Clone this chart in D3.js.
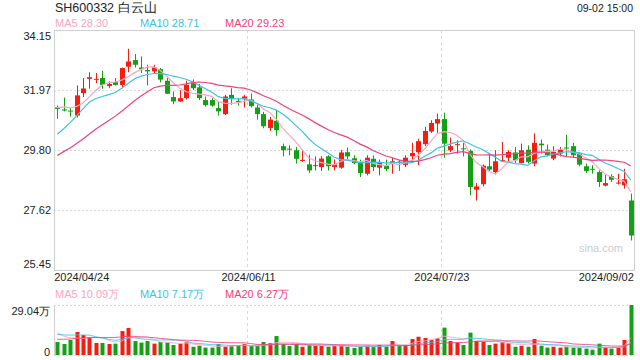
<!DOCTYPE html>
<html>
<head>
<meta charset="utf-8">
<script src="https://cdn.jsdelivr.net/npm/d3@7"></script>
<style>
    body { margin: 0; background: #fff; }
    svg { display: block; font-family: Arial, "Liberation Sans", sans-serif; }
</style>
</head>
<body>
<div id="chart"></div>
<script>
const title = 'SH600332 白云山';
const stamp = '09-02 15:00';

const dates = [
    '2024/04/24', '2024/04/25', '2024/04/26', '2024/04/29', '2024/04/30',
    '2024/05/06', '2024/05/07', '2024/05/08', '2024/05/09', '2024/05/10',
    '2024/05/13', '2024/05/14', '2024/05/15', '2024/05/16', '2024/05/17',
    '2024/05/20', '2024/05/21', '2024/05/22', '2024/05/23', '2024/05/24',
    '2024/05/27', '2024/05/28', '2024/05/29', '2024/05/30', '2024/05/31',
    '2024/06/03', '2024/06/04', '2024/06/05', '2024/06/06', '2024/06/07',
    '2024/06/11', '2024/06/12', '2024/06/13', '2024/06/14',
    '2024/06/17', '2024/06/18', '2024/06/19', '2024/06/20', '2024/06/21',
    '2024/06/24', '2024/06/25', '2024/06/26', '2024/06/27', '2024/06/28',
    '2024/07/01', '2024/07/02', '2024/07/03', '2024/07/04', '2024/07/05',
    '2024/07/08', '2024/07/09', '2024/07/10', '2024/07/11', '2024/07/12',
    '2024/07/15', '2024/07/16', '2024/07/17', '2024/07/18', '2024/07/19',
    '2024/07/22', '2024/07/23', '2024/07/24', '2024/07/25', '2024/07/26',
    '2024/07/29', '2024/07/30', '2024/07/31',
    '2024/08/01', '2024/08/02', '2024/08/05', '2024/08/06', '2024/08/07',
    '2024/08/08', '2024/08/09', '2024/08/12', '2024/08/13', '2024/08/14',
    '2024/08/15', '2024/08/16', '2024/08/19', '2024/08/20', '2024/08/21',
    '2024/08/22', '2024/08/23', '2024/08/26', '2024/08/27', '2024/08/28',
    '2024/08/29', '2024/08/30', '2024/09/02',
];

const open = [
    31.34, 31.27, 31.23, 31.05, 31.86, 32.38, 32.36, 32.41, 32.12, 32.26,
    32.16, 32.82, 33.06, 32.79, 32.70, 32.65, 32.73, 32.31, 31.72, 31.56,
    31.68, 32.22, 32.07, 31.61, 31.61, 31.32, 31.10, 31.80, 31.58, 31.66,
    31.63, 31.34, 31.10, 30.60, 30.86, 29.94, 29.85, 29.79, 29.41, 29.28,
    29.22, 29.18, 29.57, 29.18, 29.16, 29.72, 29.50, 29.37, 28.94, 29.48,
    29.16, 29.24, 29.31, 29.38, 29.26, 29.57, 29.72, 30.01, 30.47, 30.76,
    30.92, 29.79, 29.98, 29.86, 29.77, 28.36, 28.56, 29.21, 29.00, 29.40,
    29.52, 29.71, 29.33, 29.81, 29.31, 30.03, 29.81, 29.49, 29.67, 29.89,
    29.94, 29.67, 29.21, 29.12, 29.00, 28.51, 28.85, 28.59, 28.52, 27.97,
];
const high = [
    31.41, 31.70, 31.32, 32.14, 32.41, 32.62, 32.59, 32.67, 32.29, 32.41,
    32.79, 33.47, 33.28, 33.19, 32.89, 32.89, 32.77, 32.41, 31.92, 31.97,
    32.31, 32.36, 32.19, 31.74, 31.68, 31.56, 31.80, 32.04, 31.68, 31.80,
    31.85, 31.49, 31.18, 31.00, 31.24, 30.03, 29.97, 29.91, 29.79, 29.63,
    29.57, 29.58, 29.61, 29.46, 29.81, 29.89, 29.61, 29.45, 29.61, 29.60,
    29.45, 29.45, 29.52, 29.43, 29.61, 30.06, 30.21, 30.64, 30.88, 31.12,
    31.15, 30.25, 30.15, 30.06, 29.82, 28.60, 29.28, 29.67, 29.79, 30.09,
    29.79, 29.91, 30.03, 29.97, 30.40, 30.18, 30.00, 29.94, 29.91, 30.35,
    30.06, 29.73, 29.31, 29.25, 29.06, 28.92, 28.92, 28.94, 29.12, 28.22,
];
const low = [
    30.93, 31.20, 31.01, 30.98, 31.72, 32.02, 32.22, 32.02, 32.04, 32.14,
    32.07, 32.62, 32.79, 32.59, 32.14, 32.59, 32.25, 31.83, 31.46, 31.55,
    31.63, 31.97, 31.61, 31.37, 31.37, 31.05, 31.07, 31.44, 31.41, 31.34,
    31.34, 30.90, 30.59, 30.49, 30.32, 29.57, 29.61, 29.31, 29.37, 28.97,
    29.06, 29.04, 29.06, 29.06, 29.12, 29.45, 29.28, 28.82, 28.88, 29.04,
    28.88, 29.03, 28.94, 29.04, 29.18, 29.45, 29.25, 29.94, 30.42, 30.42,
    29.52, 29.73, 29.67, 29.57, 28.16, 27.97, 28.48, 29.04, 28.92, 29.37,
    29.37, 29.33, 29.31, 29.31, 29.21, 29.67, 29.57, 29.43, 29.57, 29.55,
    29.52, 29.21, 28.97, 28.94, 28.46, 28.48, 28.64, 28.55, 28.40, 26.52,
];
const close = [
    31.29, 31.23, 31.20, 31.78, 32.03, 32.44, 32.38, 32.16, 32.19, 32.16,
    32.77, 33.01, 32.89, 32.73, 32.65, 32.79, 32.35, 31.84, 31.56, 31.68,
    32.16, 32.04, 31.68, 31.43, 31.41, 31.20, 31.74, 31.66, 31.53, 31.74,
    31.39, 31.10, 30.66, 30.90, 30.52, 29.79, 29.83, 29.48, 29.44, 29.06,
    29.25, 29.49, 29.21, 29.28, 29.71, 29.57, 29.33, 28.97, 29.52, 29.18,
    29.35, 29.11, 29.39, 29.33, 29.52, 29.69, 30.12, 30.49, 30.78, 30.92,
    30.03, 29.94, 30.01, 29.84, 28.46, 28.48, 29.23, 29.09, 29.39, 29.43,
    29.73, 29.43, 29.79, 29.37, 30.06, 29.97, 29.61, 29.73, 29.81, 29.86,
    29.61, 29.27, 29.04, 29.10, 28.64, 28.60, 28.72, 28.62, 28.74, 26.70,
];
// volume in 万 (10k) shares
const volume = [
    7.55, 6.39, 8.71, 13.36, 11.6, 10.3, 6.97, 6.97, 6.39, 6.58,
    13.9, 15.7, 8.1, 7.2, 8.1, 6.6, 7.55, 7.2, 5.8, 6.6,
    7.4, 4.8, 5.4, 4.3, 4.3, 6.4, 4.8, 5.4, 5.8, 6.4,
    5.2, 5.2, 7.55, 7.0, 11.0, 6.4, 5.2, 6.4, 4.8, 5.8,
    5.4, 5.2, 4.8, 5.4, 5.6, 4.8, 4.1, 4.8, 5.4, 4.8,
    5.8, 4.8, 8.1, 5.4, 5.8, 9.3, 10.6, 9.9, 8.7, 9.7,
    15.9, 8.1, 7.2, 5.8, 13.0, 8.1, 7.7, 5.8, 6.6, 7.55,
    6.8, 4.8, 5.4, 4.8, 9.3, 5.4, 4.3, 4.8, 4.3, 4.8,
    4.3, 4.3, 3.7, 3.1, 6.6, 4.3, 3.7, 4.1, 8.7, 29.04,
];

// sessions before the visible window (estimated), needed for the moving averages
const priorClose = [
    28.4, 28.6, 28.5, 28.7, 28.9, 28.8, 29.0, 29.1, 29.0, 29.3,
    29.2, 29.0, 29.3, 29.5, 30.0, 31.1, 31.4, 31.5, 31.4,
];
const priorVolume = [
    5.5, 6.0, 6.8, 5.9, 6.4, 6.2, 5.8, 7.0, 6.1, 6.3,
    9.5, 10.2, 11.8, 12.5, 11.0, 16.2, 14.1, 13.8, 13.3,
];

const priceTicks = [34.15, 31.97, 29.80, 27.62, 25.45];
const volumeTicks = [29.04, 0];
const volumeTickLabels = ['29.04万', '0'];
const dateTicks = ['2024/04/24', '2024/06/11', '2024/07/23', '2024/09/02'];

const maPeriods = [5, 10, 20];
const priceMaLegend = ['MA5 28.30', 'MA10 28.71', 'MA20 29.23'];
const volumeMaLegend = ['MA5 10.09万', 'MA10 7.17万', 'MA20 6.27万'];

const UP = '#f41d0f';
const DOWN = '#13a015';
const MA_COLORS = ['#f9a5c3', '#3cc3e6', '#ee4379'];
const BORDER = '#cfcfcf';
const GRID = '#d8d8d8';

const W = 640;
const H = 360;
const left = 54;
const right = 634;
const priceTop = 30;
const priceBottom = 270;
const volTop = 305;
const volBottom = 355;

const svg = d3.select('#chart').append('svg')
    .attr('width', W)
    .attr('height', H);

const x = d3.scaleBand().domain(dates).range([left, right]);
const cx = (d) => x(d) + x.bandwidth() / 2;
const y = d3.scaleLinear().domain([25.45, 34.15]).range([priceBottom, priceTop]);
const yv = d3.scaleLinear().domain([0, 29.04]).range([volBottom, volTop]);

function movingAverage(values, prior, n) {
    const all = prior.concat(values);
    return values.map((v, i) => {
        const end = prior.length + i + 1;
        return d3.mean(all.slice(end - n, end));
    });
}

// ---- grid ----
const priceGrid = svg.append('g')
    .attr('transform', 'translate(' + left + ',0)')
    .call(d3.axisLeft(y)
        .tickValues(priceTicks.slice(1, -1))
        .tickSize(-(right - left))
        .tickFormat(''));
priceGrid.select('.domain').remove();
priceGrid.selectAll('line')
    .attr('stroke', GRID)
    .attr('stroke-dasharray', '2,2');

const vGrid = svg.append('g');
dateTicks.slice(1, -1).forEach((d) => {
    const gx = Math.round(x(d)) + 0.5;
    [[priceTop, priceBottom], [volTop, volBottom]].forEach((r) => {
        vGrid.append('line')
            .attr('x1', gx).attr('x2', gx)
            .attr('y1', r[0]).attr('y2', r[1])
            .attr('stroke', GRID)
            .attr('stroke-dasharray', '3,3');
    });
});

// frame of the price pane
svg.append('rect')
    .attr('x', left + 0.5)
    .attr('y', priceTop + 0.5)
    .attr('width', right - left)
    .attr('height', priceBottom - priceTop)
    .attr('fill', 'none')
    .attr('stroke', BORDER);

// frame of the volume pane
svg.append('line')
    .attr('x1', left + 0.5).attr('x2', left + 0.5)
    .attr('y1', volTop).attr('y2', volBottom + 1)
    .attr('stroke', BORDER);
[volTop, volBottom].forEach((gy) => {
    svg.append('line')
        .attr('x1', left).attr('x2', right)
        .attr('y1', gy + 0.5).attr('y2', gy + 0.5)
        .attr('stroke', GRID)
        .attr('stroke-dasharray', '2,2');
});

svg.append('text')
    .attr('x', 623)
    .attr('y', 252)
    .attr('text-anchor', 'end')
    .attr('font-size', 11)
    .attr('fill', '#cccccc')
    .text('sina.com');

// ---- candles ----
const candles = dates.map((d, i) => ({
    date: d, o: open[i], h: high[i], l: low[i], c: close[i], v: volume[i],
}));
const color = (d) => (d.c >= d.o ? UP : DOWN);

const candle = svg.append('g').selectAll('g')
    .data(candles)
    .enter()
    .append('g');

candle.append('line')
    .attr('x1', (d) => Math.round(cx(d.date)) + 0.5)
    .attr('x2', (d) => Math.round(cx(d.date)) + 0.5)
    .attr('y1', (d) => y(d.h))
    .attr('y2', (d) => y(d.l))
    .attr('stroke', color);

candle.append('rect')
    .attr('x', (d) => Math.round(cx(d.date)) - 2)
    .attr('y', (d) => y(Math.max(d.o, d.c)))
    .attr('width', 5)
    .attr('height', (d) => Math.max(1, Math.abs(y(d.o) - y(d.c))))
    .attr('fill', color);

// ---- volume bars ----
svg.append('g').selectAll('rect')
    .data(candles)
    .enter()
    .append('rect')
    .attr('x', (d) => Math.round(cx(d.date)) - 1.5)
    .attr('y', (d) => yv(d.v))
    .attr('width', 4)
    .attr('height', (d) => volBottom - yv(d.v))
    .attr('fill', color);

// ---- moving averages ----
maPeriods.forEach((n, k) => {
    const priceMa = movingAverage(close, priorClose, n);
    svg.append('path')
        .datum(priceMa)
        .attr('fill', 'none')
        .attr('stroke', MA_COLORS[k])
        .attr('stroke-width', 1.2)
        .attr('d', d3.line()
            .x((v, i) => cx(dates[i]))
            .y((v) => y(v)));

    const volMa = movingAverage(volume, priorVolume, n);
    svg.append('path')
        .datum(volMa)
        .attr('fill', 'none')
        .attr('stroke', MA_COLORS[k])
        .attr('stroke-width', 1)
        .attr('opacity', 0.85)
        .attr('d', d3.line()
            .x((v, i) => cx(dates[i]))
            .y((v) => yv(v)));
});

// ---- axes ----
const priceAxis = svg.append('g')
    .attr('transform', 'translate(' + left + ',0)')
    .call(d3.axisLeft(y)
        .tickValues(priceTicks)
        .tickSize(0)
        .tickPadding(3)
        .tickFormat(d3.format('.2f')));
priceAxis.select('.domain').remove();
priceAxis.selectAll('text')
    .attr('font-size', 11)
    .attr('font-family', 'Arial, "Liberation Sans", sans-serif')
    .attr('fill', '#222')
    .attr('transform', (d) => {
        if (d === priceTicks[0]) { return 'translate(0,5.5)'; }
        if (d === priceTicks[priceTicks.length - 1]) { return 'translate(0,-6.5)'; }
        return null;
    });

const volAxis = svg.append('g')
    .attr('transform', 'translate(' + left + ',0)')
    .call(d3.axisLeft(yv)
        .tickValues(volumeTicks)
        .tickSize(0)
        .tickPadding(4)
        .tickFormat((d, i) => volumeTickLabels[i]));
volAxis.select('.domain').remove();
volAxis.selectAll('text')
    .attr('font-size', 11)
    .attr('font-family', 'Arial, "Liberation Sans", sans-serif')
    .attr('fill', '#222')
    .attr('transform', (d) => (d === volumeTicks[0] ? 'translate(0,6)' : 'translate(0,-3.5)'));

const dateAxis = svg.append('g')
    .attr('transform', 'translate(0,' + priceBottom + ')')
    .call(d3.axisBottom(x)
        .tickValues(dateTicks)
        .tickSize(0)
        .tickPadding(3));
dateAxis.select('.domain').remove();
dateAxis.selectAll('text')
    .attr('font-size', 11)
    .attr('font-family', 'Arial, "Liberation Sans", sans-serif')
    .attr('fill', '#222')
    .attr('text-anchor', (d, i) => {
        if (i === 0) { return 'start'; }
        if (i === dateTicks.length - 1) { return 'end'; }
        return 'middle';
    })
    .attr('dx', (d, i) => {
        if (i === 0) { return -3; }
        if (i === dateTicks.length - 1) { return 3; }
        return -2;
    });

// ---- header & legends ----
svg.append('text')
    .attr('x', 55)
    .attr('y', 12)
    .attr('font-size', 12.5)
    .attr('fill', '#222')
    .text(title);

svg.append('text')
    .attr('x', 633)
    .attr('y', 11.5)
    .attr('text-anchor', 'end')
    .attr('font-size', 10.5)
    .attr('fill', '#222')
    .text(stamp);

const legendX = [55, 140, 225];
function drawLegend(labels, baseline) {
    svg.append('g').selectAll('text')
        .data(labels)
        .enter()
        .append('text')
        .attr('x', (d, i) => legendX[i])
        .attr('y', baseline)
        .attr('font-size', 11)
        .attr('fill', (d, i) => MA_COLORS[i])
        .text((d) => d);
}
drawLegend(priceMaLegend, 27);
drawLegend(volumeMaLegend, 298);
</script>
</body>
</html>
